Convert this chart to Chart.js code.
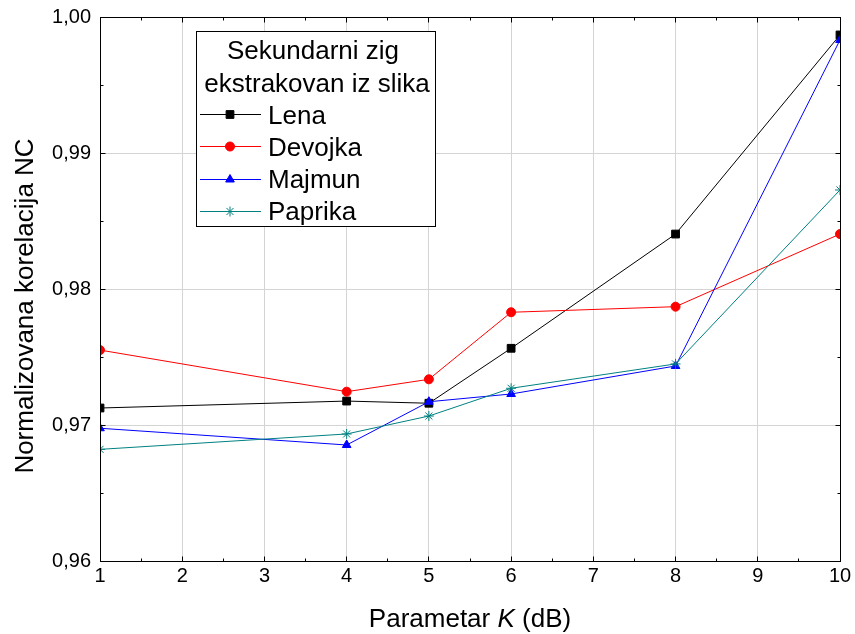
<!DOCTYPE html>
<html>
<head>
<meta charset="utf-8">
<title>Normalizovana korelacija NC</title>
<script src="https://cdn.jsdelivr.net/npm/chart.js@4.4.0/dist/chart.umd.min.js"></script>
<style>
  html, body { margin: 0; padding: 0; background: #fff; }
</style>
</head>
<body>
<canvas id="nc" width="855" height="634"></canvas>
<script>
// K in dB and NC of the extracted secondary watermark per image
const kValues = [1, 4, 5, 6, 8, 10];
const lenaNC    = [0.97125, 0.97176, 0.97160, 0.97564, 0.98404, 0.99868];
const devojkaNC = [0.97551, 0.97245, 0.97336, 0.97829, 0.97870, 0.98404];
const majmunNC  = [0.96976, 0.96853, 0.97171, 0.97228, 0.97434, 0.99831];
const paprikaNC = [0.96821, 0.96934, 0.97066, 0.97270, 0.97449, 0.98728];

const xTicks = [1, 2, 3, 4, 5, 6, 7, 8, 9, 10];
const yTicks = [0.96, 0.97, 0.98, 0.99, 1.00];
const legendTitle = ['Sekundarni zig', 'ekstrakovan iz slika'];

const FONT = "'Liberation Sans', Arial, sans-serif";

function points(values) {
  return kValues.map((k, i) => ({ x: k, y: values[i] }));
}

function series(label, values, color, style, radius, order) {
  return {
    label: label,
    data: points(values),
    borderColor: color,
    backgroundColor: color,
    borderWidth: 1,
    pointStyle: style,
    pointRadius: radius,
    pointHoverRadius: radius,
    pointBorderWidth: 1,
    tension: 0,
    order: order
  };
}

const crisp = p => Math.round(p - 0.5) + 0.5;

// box, inward ticks, axis titles and the legend inside the plot
const decorations = {
  id: 'decorations',
  afterDraw(chart) {
    const ctx = chart.ctx;
    const a = chart.chartArea;
    const xs = chart.scales.x, ys = chart.scales.y;
    const L = crisp(a.left), R = crisp(a.right), T = crisp(a.top), B = crisp(a.bottom);
    ctx.save();
    ctx.strokeStyle = '#000';
    ctx.lineWidth = 1;
    ctx.strokeRect(L, T, R - L, B - T);

    ctx.beginPath();
    for (let v = xTicks[0]; v <= xTicks[xTicks.length - 1] + 1e-9; v += 0.5) {
      const len = Number.isInteger(v) ? 5 : 3;
      const px = crisp(xs.getPixelForValue(v));
      ctx.moveTo(px, B); ctx.lineTo(px, B - len);
      ctx.moveTo(px, T); ctx.lineTo(px, T + len);
    }
    for (let i = 0; i <= (yTicks.length - 1) * 2; i++) {
      const v = yTicks[0] + i * 0.005;
      const len = i % 2 === 0 ? 5 : 3;
      const py = crisp(ys.getPixelForValue(v));
      ctx.moveTo(L, py); ctx.lineTo(L + len, py);
      ctx.moveTo(R, py); ctx.lineTo(R - len, py);
    }
    ctx.stroke();

    // x title with italic K
    ctx.fillStyle = '#000';
    ctx.textBaseline = 'alphabetic';
    ctx.textAlign = 'left';
    const normal = '26px ' + FONT, italic = 'italic 26px ' + FONT;
    const parts = [['Parametar ', normal], ['K', italic], [' (dB)', normal]];
    let total = 0;
    parts.forEach(p => { ctx.font = p[1]; total += ctx.measureText(p[0]).width; });
    let tx = (a.left + a.right) / 2 - total / 2;
    parts.forEach(p => {
      ctx.font = p[1];
      ctx.fillText(p[0], tx, 627);
      tx += ctx.measureText(p[0]).width;
    });

    // y title
    ctx.save();
    ctx.translate(33, 306);
    ctx.rotate(-Math.PI / 2);
    ctx.textAlign = 'center';
    ctx.font = normal;
    ctx.fillText('Normalizovana korelacija NC', 0, 0);
    ctx.restore();

    // legend
    const bx = 196.5, by = 31.5, bw = 239, bh = 195;
    ctx.fillStyle = '#fff';
    ctx.fillRect(bx, by, bw, bh);
    ctx.strokeStyle = '#000';
    ctx.strokeRect(bx, by, bw, bh);
    ctx.fillStyle = '#000';
    ctx.font = normal;
    ctx.textAlign = 'center';
    ctx.fillText(legendTitle[0], bx + bw / 2 - 3, 59);
    ctx.fillText(legendTitle[1], bx + bw / 2 + 1, 92);
    ctx.textAlign = 'left';
    const ordered = chart.data.datasets;
    ordered.forEach((ds, i) => {
      const base = 123.5 + i * 32.3;
      const ly = Math.round(base - 9.5) + 0.5;
      ctx.strokeStyle = ds.borderColor;
      ctx.fillStyle = ds.backgroundColor;
      ctx.lineWidth = 1;
      ctx.beginPath();
      ctx.moveTo(200, ly); ctx.lineTo(261, ly);
      ctx.stroke();
      Chart.helpers.drawPoint(ctx, {
        pointStyle: ds.pointStyle, radius: ds.pointRadius, rotation: 0, borderWidth: 1
      }, 230, ly);
      ctx.fillStyle = '#000';
      ctx.fillText(ds.label, 268, base);
    });
    ctx.restore();
  }
};

new Chart(document.getElementById('nc'), {
  type: 'line',
  data: {
    datasets: [
      series('Lena', lenaNC, '#000000', 'rect', 5.5, 3),
      series('Devojka', devojkaNC, '#ff0000', 'circle', 4.5, 2),
      series('Majmun', majmunNC, '#0000ff', 'triangle', 5, 1),
      series('Paprika', paprikaNC, '#008080', 'star', 5, 0)
    ]
  },
  options: {
    responsive: false,
    animation: false,
    events: [],
    layout: { padding: { left: 0, top: 17, right: 15, bottom: 0 } },
    plugins: {
      legend: { display: false },
      tooltip: { enabled: false },
      title: { display: false }
    },
    scales: {
      x: {
        type: 'linear',
        min: 1,
        max: 10,
        afterBuildTicks: s => { s.ticks = xTicks.map(v => ({ value: v })); },
        afterFit: s => { s.height = 73; s.paddingLeft = 0; s.paddingRight = 0; },
        grid: { color: '#d4d4d4', lineWidth: 1, drawTicks: false },
        border: { display: false },
        ticks: {
          color: '#000',
          padding: 3,
          maxRotation: 0,
          font: { family: FONT, size: 20 },
          callback: v => String(v)
        }
      },
      y: {
        type: 'linear',
        min: 0.96,
        max: 1.00,
        afterBuildTicks: s => { s.ticks = yTicks.map(v => ({ value: v })); },
        afterFit: s => { s.width = 100; s.paddingTop = 0; s.paddingBottom = 0; },
        grid: { color: '#d4d4d4', lineWidth: 1, drawTicks: false },
        border: { display: false },
        ticks: {
          color: '#000',
          padding: 9,
          font: { family: FONT, size: 20 },
          callback: v => v.toFixed(2).replace('.', ',')
        }
      }
    }
  },
  plugins: [decorations]
});
</script>
</body>
</html>
